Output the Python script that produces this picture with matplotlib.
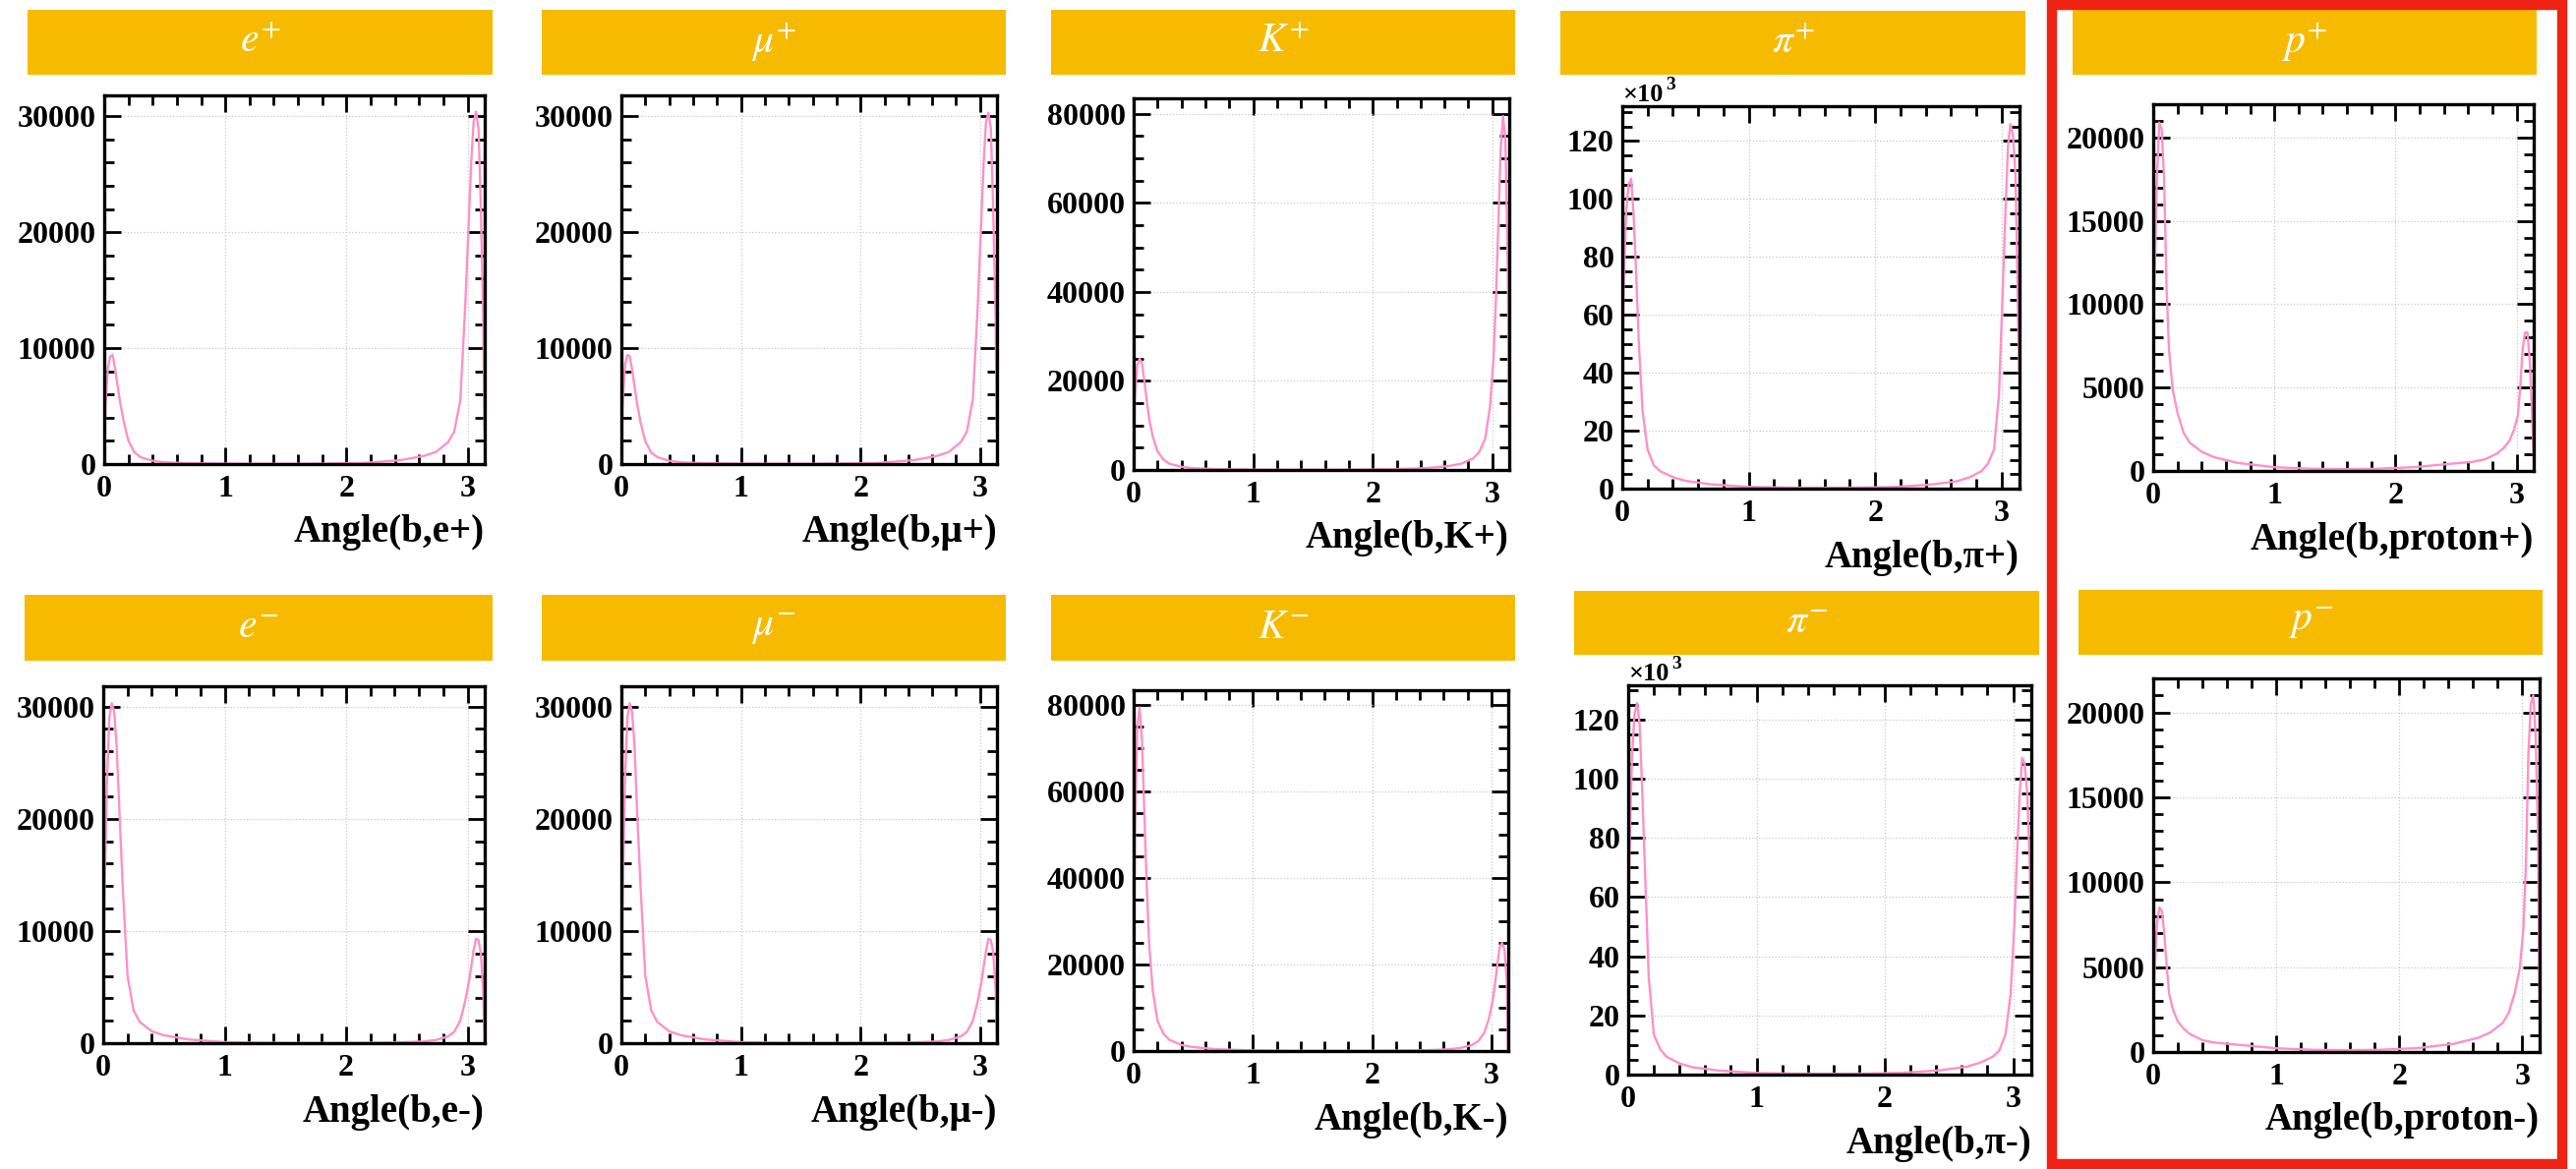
import matplotlib
matplotlib.use('Agg')
import matplotlib.pyplot as plt
from matplotlib.patches import Rectangle
from matplotlib.ticker import MultipleLocator, FuncFormatter
from matplotlib.transforms import offset_copy

plt.rcParams['font.family'] = ['Liberation Serif', 'DejaVu Serif']
plt.rcParams['mathtext.fontset'] = 'stix'

W, H = 2620, 1189

# angle sample points (rad), shared by every panel
ANGLE = [0.00, 0.01, 0.03, 0.05, 0.07, 0.09, 0.11, 0.13, 0.16, 0.20, 0.25, 0.30,
         0.40, 0.50, 0.70, 1.00, 1.30, 1.57, 1.84, 2.14, 2.44, 2.64, 2.74, 2.84,
         2.89, 2.94, 2.98, 3.01, 3.03, 3.05, 3.07, 3.09, 3.11, 3.13, 3.14]

E_PLUS = [0, 5000, 8300, 9300, 9400, 8200, 6800, 5400, 3700, 2000, 1000, 600,
          280, 150, 70, 35, 25, 25, 40, 90, 330, 700, 1050, 1900,
          2800, 5500, 13500, 21000, 26000, 29500, 30400, 29000, 22000, 12000, 3000]
E_MINUS = [2000, 13000, 23000, 29000, 30300, 29600, 26500, 21500, 14000, 6000, 2900, 1900,
           1050, 700, 330, 90, 40, 25, 25, 35, 70, 150, 280, 600,
           1000, 2000, 3700, 5400, 6800, 8300, 9300, 9200, 8000, 4500, 0]
MU_PLUS = [0, 5200, 8500, 9400, 9300, 8100, 6700, 5300, 3600, 1950, 1000, 600,
           280, 150, 70, 35, 25, 25, 40, 90, 330, 700, 1050, 1900,
           2800, 5600, 13500, 21000, 26000, 29500, 30300, 29000, 22000, 12500, 3000]
MU_MINUS = [2000, 13000, 23500, 29000, 30300, 29500, 26500, 21000, 14000, 6000, 2900, 1900,
            1050, 700, 330, 90, 40, 25, 25, 35, 70, 150, 280, 600,
            1000, 2000, 3700, 5400, 6800, 8200, 9300, 9200, 8100, 4800, 0]
K_PLUS = [0, 16000, 23500, 25000, 24000, 20000, 15500, 11500, 7500, 4200, 2300, 1400,
          700, 400, 180, 80, 50, 45, 60, 150, 400, 900, 1400, 2600,
          4000, 7000, 14000, 25000, 38000, 55000, 72000, 79500, 74000, 45000, 10000]
K_MINUS = [10000, 50000, 75000, 79500, 72000, 55000, 38000, 25000, 14000, 7000, 4000, 2600,
           1400, 900, 400, 150, 60, 45, 50, 80, 180, 400, 700, 1400,
           2300, 4200, 7500, 11500, 15500, 20000, 24000, 25000, 23500, 16000, 0]
PI_PLUS = [35000, 70000, 95000, 105000, 107000, 94000, 74000, 51000, 27000, 13500, 8000, 6000,
           4000, 2700, 1500, 600, 350, 300, 350, 550, 1400, 2500, 3800, 6000,
           8500, 13500, 33000, 70000, 95000, 118000, 125800, 122000, 108000, 60000, 40000]
PI_MINUS = [40000, 75000, 108000, 122000, 125500, 118000, 95000, 70000, 33000, 13500, 8500, 6000,
            3800, 2500, 1400, 550, 350, 300, 350, 600, 1500, 2700, 4000, 6000,
            8000, 13500, 27000, 51000, 74000, 94000, 107000, 105000, 95000, 70000, 35000]
P_PLUS = [3000, 11000, 17500, 20900, 20500, 17500, 11000, 7300, 4900, 3500, 2300, 1700,
          1150, 830, 480, 225, 130, 110, 130, 220, 420, 550, 700, 1050,
          1350, 1800, 2500, 3300, 5000, 7300, 8300, 8300, 6500, 3000, 1000]
P_MINUS = [1000, 4500, 7500, 8500, 8300, 7000, 5000, 3400, 2500, 1800, 1350, 1050,
           700, 550, 420, 220, 130, 110, 130, 225, 480, 830, 1150, 1700,
           2300, 3500, 4900, 7300, 11000, 17500, 20500, 21000, 18500, 12000, 3000]

TITLES = ['$e^{+}$', '$\\mu^{+}$', '$K^{+}$', '$\\pi^{+}$', '$p^{+}$',
          '$e^{-}$', '$\\mu^{-}$', '$K^{-}$', '$\\pi^{-}$', '$p^{-}$']
XLABELS = ['Angle(b,e+)', 'Angle(b,\u03bc+)', 'Angle(b,K+)', 'Angle(b,\u03c0+)', 'Angle(b,proton+)',
           'Angle(b,e-)', 'Angle(b,\u03bc-)', 'Angle(b,K-)', 'Angle(b,\u03c0-)', 'Angle(b,proton-)']
SERIES = [E_PLUS, MU_PLUS, K_PLUS, PI_PLUS, P_PLUS,
          E_MINUS, MU_MINUS, K_MINUS, PI_MINUS, P_MINUS]

# pixel boxes (x0, y0, x1, y1) from the top-left corner
AX_BOX = [(106, 97, 493, 472), (632, 97, 1014, 472), (1153, 100, 1535, 478),
          (1650, 108, 2054, 497), (2190, 106, 2577, 479),
          (105, 698, 493, 1061), (632, 698, 1014, 1061), (1153, 702, 1534, 1069),
          (1656, 697, 2066, 1093), (2190, 690, 2583, 1070)]
BANNER_BOX = [(28, 10, 501, 76), (551, 10, 1023, 76), (1069, 10, 1541, 76),
              (1587, 11, 2060, 76), (2108, 10, 2580, 76),
              (25, 605, 501, 672), (551, 605, 1023, 672), (1069, 605, 1541, 672),
              (1601, 601, 2074, 666), (2114, 600, 2586, 666)]
YTOP = [31800, 31800, 83500, 132000, 22000, 31800, 31800, 83500, 131500, 22000]
YSTEP = [(10000, 2000), (10000, 2000), (20000, 5000), (20000, 5000), (5000, 1000)] * 2

BANNER = '#F6BB00'
LINE = '#FF90C8'


def frac(x0, y0, x1, y1):
    return [x0 / W, 1 - y1 / H, (x1 - x0) / W, (y1 - y0) / H]


fig = plt.figure(figsize=(W / 100, H / 100), dpi=100)

for i in range(10):
    ax = fig.add_axes(frac(*AX_BOX[i]))
    ax.plot(ANGLE, SERIES[i], color=LINE, lw=1.7)
    ax.set_xlim(0, 3.1416)
    ax.set_ylim(0, YTOP[i])
    ax.xaxis.set_major_locator(MultipleLocator(1))
    ax.xaxis.set_minor_locator(MultipleLocator(0.2))
    ax.yaxis.set_major_locator(MultipleLocator(YSTEP[i][0]))
    ax.yaxis.set_minor_locator(MultipleLocator(YSTEP[i][1]))
    if i in (3, 8):
        ax.yaxis.set_major_formatter(FuncFormatter(lambda v, _: f'{v / 1000:g}'))
        tr = offset_copy(ax.transAxes, fig=fig, x=0, y=5, units='dots')
        ax.text(0, 1, '\u00d710', transform=tr, ha='left', va='baseline',
                fontsize=19, fontweight='bold')
        tr2 = offset_copy(ax.transAxes, fig=fig, x=44, y=17, units='dots')
        ax.text(0, 1, '3', transform=tr2, ha='left', va='baseline',
                fontsize=14, fontweight='bold')
    ax.grid(True, which='major', linestyle=':', color='#c8c8c8', lw=0.9)
    ax.tick_params(which='both', direction='in', top=True, right=True, width=2)
    ax.tick_params(which='major', length=12, labelsize=23)
    ax.tick_params(which='minor', length=7)
    ax.tick_params(axis='x', pad=8)
    ax.tick_params(axis='y', pad=6)
    for lab in ax.get_xticklabels() + ax.get_yticklabels():
        lab.set_fontweight('bold')
    for s in ax.spines.values():
        s.set_linewidth(2.4)

    bx = BANNER_BOX[i]
    fig.add_artist(Rectangle((bx[0] / W, 1 - bx[3] / H), (bx[2] - bx[0]) / W,
                             (bx[3] - bx[1]) / H, transform=fig.transFigure,
                             facecolor=BANNER, edgecolor='none', zorder=-1))
    fig.text((bx[0] + bx[2]) / 2 / W, 1 - (bx[1] + bx[3]) / 2 / H, TITLES[i],
             ha='center', va='center', color='white', fontsize=30)

    a = AX_BOX[i]
    fig.text(a[2] / W, 1 - (a[3] + 70) / H, XLABELS[i], ha='right', va='center',
             fontsize=28, fontweight='bold')

# red highlight around the proton column
fig.add_artist(Rectangle((2087 / W, 5 / H), (2606 - 2087) / W, (1184 - 5) / H,
                         transform=fig.transFigure, facecolor='none',
                         edgecolor='#EE2314', lw=7.5))

fig.savefig('out.png', dpi=100)
